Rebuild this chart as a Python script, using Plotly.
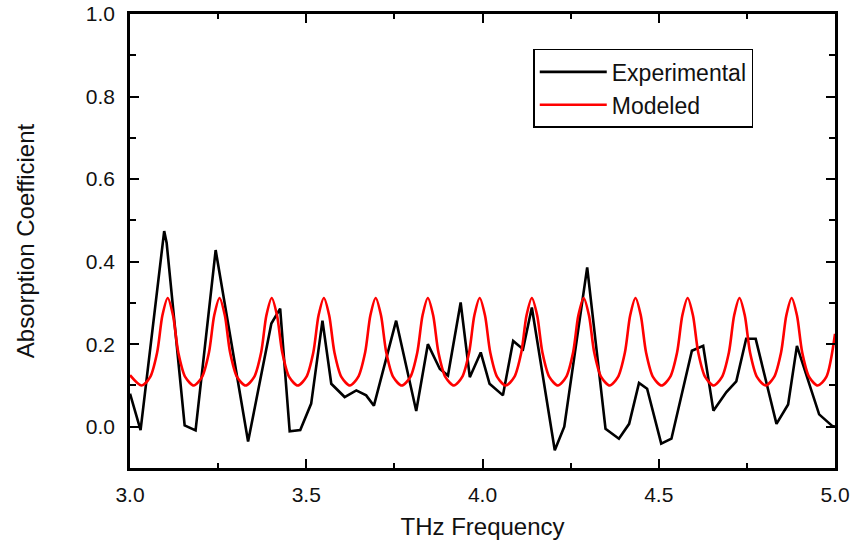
import plotly.graph_objects as go

# Experimental (black) data
exp_x = [3.000, 3.030, 3.097, 3.104, 3.155, 3.186, 3.243, 3.335, 3.401, 3.426,
         3.453, 3.483, 3.514, 3.546, 3.571, 3.609, 3.642, 3.670, 3.692, 3.755,
         3.812, 3.845, 3.879, 3.902, 3.938, 3.964, 3.995, 4.020, 4.058, 4.087,
         4.115, 4.140, 4.205, 4.232, 4.297, 4.349, 4.387, 4.416, 4.444, 4.467,
         4.507, 4.536, 4.594, 4.626, 4.655, 4.692, 4.720, 4.748, 4.775, 4.834,
         4.867, 4.892, 4.955, 4.992, 5.000]
exp_y = [0.080, -0.008, 0.474, 0.445, 0.003, -0.009, 0.428, -0.036, 0.250, 0.286,
         -0.011, -0.008, 0.056, 0.257, 0.104, 0.072, 0.088, 0.076, 0.051, 0.257,
         0.038, 0.200, 0.140, 0.124, 0.301, 0.120, 0.180, 0.104, 0.076, 0.208,
         0.188, 0.289, -0.057, 0.000, 0.386, -0.005, -0.029, 0.007, 0.106, 0.092,
         -0.041, -0.029, 0.184, 0.196, 0.039, 0.084, 0.110, 0.213, 0.213, 0.007,
         0.054, 0.196, 0.030, 0.002, 0.000]

# Modeled (red) data
mod_x = [3.000, 3.033,
         3.057, 3.077, 3.092, 3.107, 3.122, 3.137, 3.157, 3.181,
         3.204, 3.224, 3.239, 3.254, 3.269, 3.284, 3.304, 3.328,
         3.352, 3.372, 3.387, 3.402, 3.417, 3.432, 3.452, 3.476,
         3.500, 3.520, 3.535, 3.550, 3.565, 3.580, 3.600, 3.624,
         3.647, 3.667, 3.682, 3.697, 3.712, 3.727, 3.747, 3.771,
         3.795, 3.815, 3.830, 3.845, 3.860, 3.875, 3.895, 3.919,
         3.942, 3.962, 3.977, 3.992, 4.007, 4.022, 4.042, 4.066,
         4.090, 4.110, 4.125, 4.140, 4.155, 4.170, 4.190, 4.214,
         4.237, 4.257, 4.272, 4.287, 4.302, 4.317, 4.337, 4.361,
         4.384, 4.404, 4.419, 4.434, 4.449, 4.464, 4.484, 4.508,
         4.532, 4.552, 4.567, 4.582, 4.597, 4.612, 4.632, 4.656,
         4.679, 4.699, 4.714, 4.729, 4.744, 4.759, 4.779, 4.803,
         4.827, 4.847, 4.862, 4.877, 4.892, 4.907, 4.927, 4.951,
         4.975, 5.000]
mod_y = [0.125, 0.100,
         0.120, 0.180, 0.270, 0.312, 0.270, 0.180, 0.120, 0.100,
         0.120, 0.180, 0.270, 0.312, 0.270, 0.180, 0.120, 0.100,
         0.120, 0.180, 0.270, 0.312, 0.270, 0.180, 0.120, 0.100,
         0.120, 0.180, 0.270, 0.312, 0.270, 0.180, 0.120, 0.100,
         0.120, 0.180, 0.270, 0.312, 0.270, 0.180, 0.120, 0.100,
         0.120, 0.180, 0.270, 0.312, 0.270, 0.180, 0.120, 0.100,
         0.120, 0.180, 0.270, 0.312, 0.270, 0.180, 0.120, 0.100,
         0.120, 0.180, 0.270, 0.312, 0.270, 0.180, 0.120, 0.100,
         0.120, 0.180, 0.270, 0.312, 0.270, 0.180, 0.120, 0.100,
         0.120, 0.180, 0.270, 0.312, 0.270, 0.180, 0.120, 0.100,
         0.120, 0.180, 0.270, 0.312, 0.270, 0.180, 0.120, 0.100,
         0.120, 0.180, 0.270, 0.312, 0.270, 0.180, 0.120, 0.100,
         0.120, 0.180, 0.270, 0.312, 0.270, 0.180, 0.120, 0.100,
         0.120, 0.225]

x_ticks = [3.0, 3.5, 4.0, 4.5, 5.0]
x_tick_labels = ["3.0", "3.5", "4.0", "4.5", "5.0"]
y_ticks = [0.0, 0.2, 0.4, 0.6, 0.8, 1.0]
y_tick_labels = ["0.0", "0.2", "0.4", "0.6", "0.8", "1.0"]

FONT = "Liberation Sans, Arial, sans-serif"

fig = go.Figure()
fig.add_trace(go.Scatter(x=exp_x, y=exp_y, mode="lines", name="Experimental",
                         line=dict(color="#000000", width=2.6)))
fig.add_trace(go.Scatter(x=mod_x, y=mod_y, mode="lines", name="Modeled",
                         line=dict(color="#ff0000", width=2.6, shape="spline", smoothing=0.8)))

axis_common = dict(showline=True, linecolor="black", linewidth=2.5, mirror="ticks",
                   ticks="inside", ticklen=9, tickwidth=2, tickcolor="black",
                   showgrid=False, zeroline=False, automargin=False,
                   tickfont=dict(family=FONT, size=21, color="#111"))

fig.update_layout(
    width=856, height=546,
    margin=dict(l=130, r=21, t=14, b=78),
    paper_bgcolor="white", plot_bgcolor="white",
    showlegend=True,
    legend=dict(x=0.572, y=0.923, xanchor="left", yanchor="top",
                bordercolor="black", borderwidth=1.5, bgcolor="white",
                font=dict(family=FONT, size=23, color="#111"),
                tracegroupgap=0, itemwidth=67),
    xaxis=dict(range=[3.0, 5.0], tickvals=x_ticks, ticktext=x_tick_labels,
               minor=dict(dtick=0.25, ticks="inside", ticklen=5, tickwidth=2, tickcolor="black"),
               ticklabelstandoff=6,
               title=dict(text="THz Frequency", font=dict(family=FONT, size=24, color="#111"), standoff=14),
               **axis_common),
    yaxis=dict(range=[-0.1, 1.0], tickvals=y_ticks, ticktext=y_tick_labels,
               minor=dict(dtick=0.1, tick0=0, ticks="inside", ticklen=6, tickwidth=2, tickcolor="black"),
               ticklabelstandoff=8,
               title=dict(text="Absorption Coefficient", font=dict(family=FONT, size=24, color="#111"), standoff=45),
               **axis_common),
)

fig.write_html("out.html", config={"displayModeBar": False},
               post_script="document.body.style.margin='0';")
